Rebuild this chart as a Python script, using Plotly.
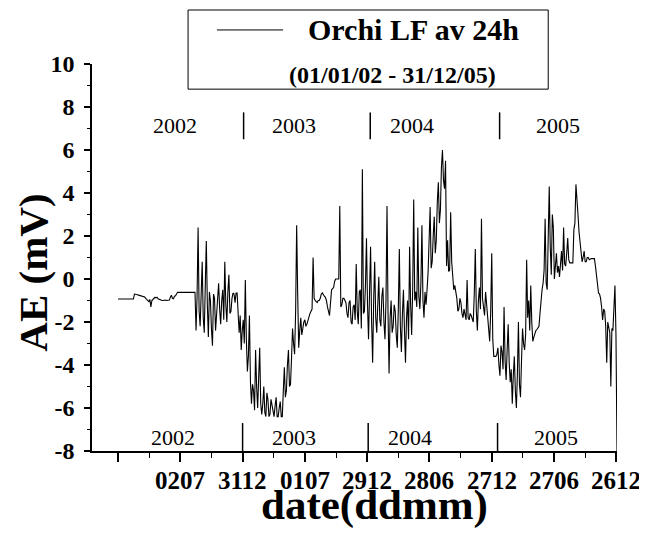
import plotly.graph_objects as go

# ---- data ----
day_step = 3  # sampling step in days, day 1 = 01/01/2002
ae_mv = [
    # Jan-Mar 2002
    -0.93, -0.93, -0.93, -0.93, -0.93, -0.93, -0.93, -0.93, -0.93, -0.93,
    -0.93, -0.93, -0.93, -0.93, -0.93, -0.93, -0.70, -0.70, -0.72, -0.73,
    -0.75, -0.76, -0.78, -0.79, -0.80, -0.82, -0.84, -0.90, -0.95, -1.00,
    -1.05, -0.95, -1.30, -1.00, -0.95, -0.90, -0.85, -0.88, -0.85, -0.92,
    -0.95, -0.97, -0.98, -1.00, -1.00, -0.97, -0.98, -1.00, -1.00, -0.99,
    -0.98, -0.85, -0.75, -0.90, -0.92, -0.80, -0.78, -0.70, -0.62, -0.62,
    -0.62, -0.62, -0.62, -0.62, -0.62, -0.62, -0.62, -0.62, -0.62, -0.62,
    -0.62, -0.62, -0.62, -0.62, -0.62, -0.62, -2.40, -0.80, 2.40, -1.50,
    # autumn 2002
    -2.20, -0.50, 0.80, -1.80, -2.50, -0.30, 1.77, -1.20, -2.70, -0.60,
    -1.00, -2.30, -3.10, -0.70, -0.90, -2.40, -1.80, -0.90, -0.20, -1.40,
    -2.10, -1.00, -0.50, -1.90, 0.80, -1.20, -2.00, -0.60, 0.20, -1.60,
    -1.50, -0.90, -0.65, -0.70, -1.10, -0.65, -0.65, -1.60, -2.50, -1.70,
    # early 2003
    -3.30, -2.40, -1.90, -3.00, -0.05, -2.80, -4.30, -3.60, -1.70, -4.80,
    -5.80, -4.90, -5.20, -6.10, -3.30, -5.00, -6.00, -4.60, -3.20, -5.80,
    -6.30, -5.80, -5.00, -6.20, -6.40, -5.30, -5.60, -6.40, -6.30, -5.60,
    -5.90, -6.30, -6.40, -5.90, -5.50, -6.40, -6.40, -6.00, -5.70, -6.40,
    -6.40, -5.20, -4.10, -5.50, -5.20, -4.00, -3.30, -5.00, -4.90, -3.70,
    -2.30, -3.00, -3.50, -1.50, 2.50, -0.70, -3.20, -2.40, -1.80, -2.60,
    # mid / late 2003
    -2.20, -2.00, -1.90, -2.20, -2.10, -1.90, -1.80, -1.60, -1.50, -1.40,
    1.00, -0.90, -1.00, -1.05, -1.10, -1.00, -1.00, -0.90, -0.70, -0.65,
    -0.75, -0.80, -0.85, -1.00, -1.30, -1.50, -1.70, -1.10, -0.50, -0.45,
    -0.40, -0.10, 0.00, 0.00, 0.00, 0.00, 3.40, -1.30, -1.20, -0.90,
    -0.90, -1.00, -1.10, -1.60, -1.80, -1.10, -1.00, -2.00, -2.10, -1.30,
    -1.20, -1.90, 0.70, -1.50, -2.10, -0.60, -0.50, -2.30, 5.10, -1.60,
    # 2004
    -1.50, -0.30, 1.90, -1.20, -2.80, -0.60, 1.50, -2.00, -3.90, -1.00,
    0.80, -1.80, -2.50, -1.20, 0.10, -1.90, -2.20, -0.80, -0.40, -2.00,
    -2.80, -1.00, 3.40, -1.60, -4.40, -1.80, -1.00, -2.50, -2.20, -1.20,
    -1.50, -2.60, -3.20, -1.40, 1.40, -2.20, -3.40, -1.60, -0.50, -2.40,
    -3.90, -1.80, -1.00, -2.80, 1.50, -1.20, -2.60, -0.50, 3.70, -1.00,
    -0.60, -1.30, 2.40, -0.80, -1.40, -0.20, 2.50, -1.00, -1.80, -0.60,
    -1.20, -0.50, 0.30, 1.80, 3.35, 0.50, 0.80, 2.00, 2.90, 1.20,
    1.80, 3.60, 4.50, 2.60, 3.20, 5.20, 6.00, 4.60, 4.20, 5.50,
    0.60, 1.80, 0.35, 0.40, 3.10, 0.80, 0.20, -0.50, -0.30, -0.60,
    -0.90, -1.50, -1.40, -0.90, -1.10, -1.60, -1.80, -1.40, -1.60, -1.90,
    -0.05, -1.80, -1.90, -1.60, -1.70, -1.90, -2.00, -0.70, 1.40, -1.50,
    -2.40, -1.00, -0.40, -1.40, 2.80, -0.90, -1.20, -1.70, -0.60, -1.30,
    # 2005
    -1.60, -2.20, -2.90, -1.50, 1.20, -2.80, -3.60, -3.60, -3.60, -3.50,
    -3.20, -4.00, -4.50, -3.10, -3.40, -4.20, -1.30, -3.80, -4.70, -3.30,
    -2.10, -3.90, -4.80, -4.20, -5.80, -4.50, -3.60, -5.20, -6.00, -4.40,
    -2.00, -4.90, -5.50, -3.80, -2.30, -3.00, -3.30, -2.60, 0.90, -1.80,
    -1.00, -2.40, -0.30, -2.00, -2.90, -2.70, -2.50, -2.40, -2.35, -2.30,
    -2.20, -1.60, -0.85, -0.50, -0.20, 0.40, 2.80, -0.20, -0.50, 1.80,
    4.30, 1.50, 0.20, 3.00, 2.40, 0.00, 0.50, 1.20, 0.30, 0.60,
    0.10, 0.80, 1.30, 0.40, 2.40, 0.70, 0.60, 1.20, 1.90, 0.90,
    0.75, 0.75, 0.75, 0.75, 2.30, 2.60, 4.40, 3.40, 3.00, 2.20,
    1.70, 1.10, 0.80, 1.00, 1.30, 0.80, 0.80, 1.00, 1.00, 0.90,
    0.95, 0.95, 0.95, 0.95, 0.95, 0.60, 0.20, -0.30, -0.65, -0.70,
    -0.90, -1.30, -1.90, -1.40, -1.50, -2.20, -3.90, -2.00, -2.20, -2.50,
    -5.00, -2.30, -2.40, -1.50, -0.30, -2.60, -8.00,
]
days = [1 + day_step * i for i in range(len(ae_mv))]

x_tick_days = [1, 183, 365, 547, 729, 911, 1093, 1275, 1457]
x_tick_labels = ["", "0207", "3112", "0107", "2912", "2806", "2712", "2706", "2612"]
x_minor_days = [92, 274, 456, 638, 820, 1002, 1184, 1366]
y_tick_vals = [-8, -6, -4, -2, 0, 2, 4, 6, 8, 10]
y_tick_labels = ["-8", "-6", "-4", "-2", "0", "2", "4", "6", "8", "10"]

years = ["2002", "2003", "2004", "2005"]
year_label_days_top = [167, 516, 860, 1288]
year_label_days_bottom = [161, 516, 854, 1282]
year_bar_days_top = [368, 738, 1116]
year_bar_days_bottom = [365, 732, 1110]

series_name = "Orchi LF av 24h"
series_period = "(01/01/02 - 31/12/05)"

SERIF = "Liberation Serif, Times New Roman, serif"

fig = go.Figure()
fig.add_trace(go.Scatter(x=days, y=ae_mv, mode="lines", name=series_name,
                         line=dict(color="black", width=1.1), showlegend=False))

shapes = []
for d in year_bar_days_top:
    shapes.append(dict(type="line", xref="x", yref="y", x0=d, x1=d, y0=6.5, y1=7.75,
                       line=dict(color="black", width=1.5)))
for d in year_bar_days_bottom:
    shapes.append(dict(type="line", xref="x", yref="y", x0=d, x1=d, y0=-8, y1=-6.7,
                       line=dict(color="black", width=1.5)))
# legend box and sample line
shapes.append(dict(type="rect", xref="paper", yref="paper", x0=0.183, x1=0.869,
                   y0=0.935, y1=1.1395, line=dict(color="black", width=1)))
shapes.append(dict(type="line", xref="paper", yref="paper", x0=0.238, x1=0.364,
                   y0=1.088, y1=1.088, line=dict(color="black", width=1)))

annotations = []
for name, d in zip(years, year_label_days_top):
    annotations.append(dict(x=d, y=7.14, xref="x", yref="y", text=name, showarrow=False,
                            font=dict(family=SERIF, size=22, color="black"),
                            xanchor="center", yanchor="middle"))
for name, d in zip(years, year_label_days_bottom):
    annotations.append(dict(x=d, y=-7.35, xref="x", yref="y", text=name, showarrow=False,
                            font=dict(family=SERIF, size=22, color="black"),
                            xanchor="center", yanchor="middle"))
for d, lab in zip(x_tick_days, x_tick_labels):
    if lab:
        annotations.append(dict(x=d, y=-0.075, xref="x", yref="paper", text=lab,
                                showarrow=False, xanchor="center", yanchor="middle",
                                borderpad=0,
                                font=dict(family=SERIF, size=25, color="black",
                                          weight="bold")))
annotations.append(dict(x=0.612, y=1.088, xref="paper", yref="paper", text=series_name,
                        showarrow=False, xanchor="center", yanchor="middle",
                        font=dict(family=SERIF, size=30, color="black", weight="bold")))
annotations.append(dict(x=0.572, y=0.9716, xref="paper", yref="paper", text=series_period,
                        showarrow=False, xanchor="center", yanchor="middle",
                        font=dict(family=SERIF, size=24, color="black", weight="bold")))
annotations.append(dict(x=-0.113, y=0.46, xref="paper", yref="paper", text="AE (mV)",
                        showarrow=False, textangle=-90, xanchor="center", yanchor="middle",
                        borderpad=0,
                        font=dict(family=SERIF, size=41, color="black", weight="bold")))
annotations.append(dict(x=0.538, y=-0.14, xref="paper", yref="paper", text="date(ddmm)",
                        showarrow=False, xanchor="center", yanchor="middle",
                        font=dict(family=SERIF, size=43, color="black", weight="bold")))

# the page adds an 8 px body margin, so the figure is 8 px smaller on each axis
fig.update_layout(
    width=639, height=528,
    margin=dict(l=84, r=30, t=56, b=85),
    paper_bgcolor="white", plot_bgcolor="white",
    shapes=shapes, annotations=annotations,
    xaxis=dict(range=[-75, 1459], showgrid=False, zeroline=False, automargin=False,
               showline=True, linecolor="black", linewidth=1.5,
               tickmode="array", tickvals=x_tick_days, showticklabels=False,
               ticks="outside", ticklen=9, tickwidth=1.5, tickcolor="black",
               minor=dict(tickvals=x_minor_days, ticks="outside", ticklen=5,
                          tickwidth=1.2, tickcolor="black")),
    yaxis=dict(range=[-8, 10], showgrid=False, zeroline=False, automargin=False,
               showline=True, linecolor="black", linewidth=1.5,
               tickmode="array", tickvals=y_tick_vals, ticktext=y_tick_labels,
               ticks="outside", ticklen=6, tickwidth=1.5, tickcolor="black",
               ticklabelstandoff=5,
               tickfont=dict(family=SERIF, size=24, color="black", weight="bold"),
               minor=dict(dtick=1, ticks="outside", ticklen=3, tickwidth=1.2,
                          tickcolor="black")),
)

fig.write_html("out.html")
